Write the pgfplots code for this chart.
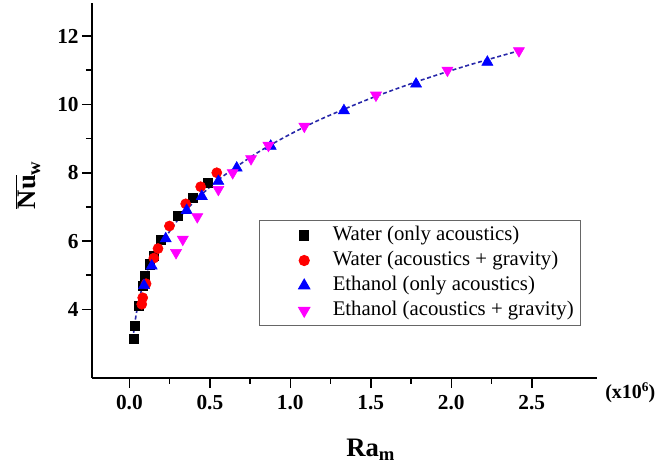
\documentclass[border=0pt]{standalone}
\usepackage{pgfplots}
\pgfplotsset{compat=1.18}
\usepackage{fontspec}
\setmainfont{Liberation Serif}
\definecolor{fitblue}{RGB}{40,40,170}
\definecolor{mag}{RGB}{255,0,255}
\begin{document}
\begin{tikzpicture}
\useasboundingbox (0,0) rectangle (492.75pt,350.25pt);
\begin{axis}[
  at={(69pt,67pt)}, anchor=south west,
  scale only axis, width=378.75pt, height=281pt,
  xmin=-0.232, xmax=2.905, ymin=2.0, ymax=12.97,
  axis x line=bottom, axis y line=left,
  axis line style={-, line width=1.4pt},
  tick align=outside,
  major tick length=7.5pt, minor tick length=4.5pt,
  every tick/.style={black, line width=1.2pt},
  xtick={0,0.5,1,1.5,2,2.5}, ytick={4,6,8,10,12},
  minor x tick num=1, minor y tick num=1,
  /pgf/number format/assume math mode=true,
  xticklabel={\pgfmathprintnumber[fixed,fixed zerofill,precision=1,assume math mode=true]{\tick}},
  yticklabel={\pgfmathprintnumber[assume math mode=true]{\tick}},
  tick label style={font=\bfseries\fontsize{16}{16}\selectfont},
  xticklabel style={yshift=-2pt},
  yticklabel style={xshift=1pt},
  clip=false,
  legend style={at={(0.331,0.421)}, anchor=north west, draw=gray!80!black, line width=0.8pt,
    font=\fontsize{15.6}{18}\selectfont, inner xsep=2pt, inner ysep=3pt, row sep=2.3pt,
    nodes={inner ysep=1pt, inner xsep=3pt, text height=11pt, text depth=3.5pt}},
  legend cell align=left,
  legend image code/.code={\path (-31pt,0pt) (18pt,0pt); \draw[#1] plot coordinates {(0pt,0pt)};},
]
\addplot[fitblue, line width=1.2pt, dash pattern=on 3pt off 2pt, smooth, forget plot] coordinates {
(0.022,3.12)(0.03,3.45)(0.04,3.78)(0.05,4.05)(0.06,4.28)(0.08,4.64)(0.1,4.93)(0.15,5.49)(0.2,5.93)(0.3,6.61)(0.4,7.14)(0.5,7.58)(0.6,7.96)(0.8,8.60)(1.0,9.13)(1.2,9.59)(1.5,10.18)(1.8,10.69)(2.1,11.14)(2.42,11.57)};
\addplot[only marks, mark=square*, mark size=3.4pt, black] coordinates {
(0.025,3.14)(0.033,3.53)(0.056,4.10)(0.081,4.68)(0.098,4.99)(0.124,5.32)(0.149,5.57)(0.195,6.05)(0.298,6.73)(0.394,7.28)(0.490,7.72)};
\addlegendentry{Water (only acoustics)}
\addplot[only marks, mark=*, mark size=3.8pt, red] coordinates {
(0.077,4.15)(0.083,4.34)(0.104,4.75)(0.152,5.50)(0.178,5.78)(0.249,6.44)(0.350,7.09)(0.443,7.59)(0.543,8.00)};
\addlegendentry{Water (acoustics + gravity)}
\addplot[only marks, mark=triangle*, mark size=4.8pt, blue] coordinates {
(0.091,4.70)(0.139,5.27)(0.226,6.07)(0.356,6.90)(0.450,7.31)(0.553,7.75)(0.667,8.14)(0.878,8.78)(1.333,9.82)(1.781,10.60)(2.224,11.24)};
\addlegendentry{Ethanol (only acoustics)}
\addplot[only marks, mark=triangle*, mark size=4.8pt, mag, mark options={rotate=180}] coordinates {
(0.290,5.66)(0.332,6.05)(0.422,6.71)(0.553,7.51)(0.642,8.00)(0.756,8.41)(0.864,8.80)(1.087,9.36)(1.532,10.27)(1.976,11.00)(2.420,11.57)};
\addlegendentry{Ethanol (acoustics + gravity)}
\node[anchor=center, font=\bfseries\fontsize{20}{20}\selectfont] at ([yshift=-54pt]rel axis cs:0.552,0) {Ra\textsubscript{m}};
\node[anchor=center, rotate=90, font=\bfseries\fontsize{20}{20}\selectfont] at ([xshift=-48pt, yshift=4pt]rel axis cs:0,0.50) {$\overline{\hbox{Nu}}$\textsubscript{w}};
\node[anchor=west, inner sep=0pt, font=\bfseries\fontsize{15}{15}\selectfont] at ([xshift=6pt, yshift=-11.5pt]rel axis cs:1,0) {(x10{\fontsize{10}{10}\selectfont\raisebox{5.5pt}{6}})};
\end{axis}
\end{tikzpicture}
\end{document}
